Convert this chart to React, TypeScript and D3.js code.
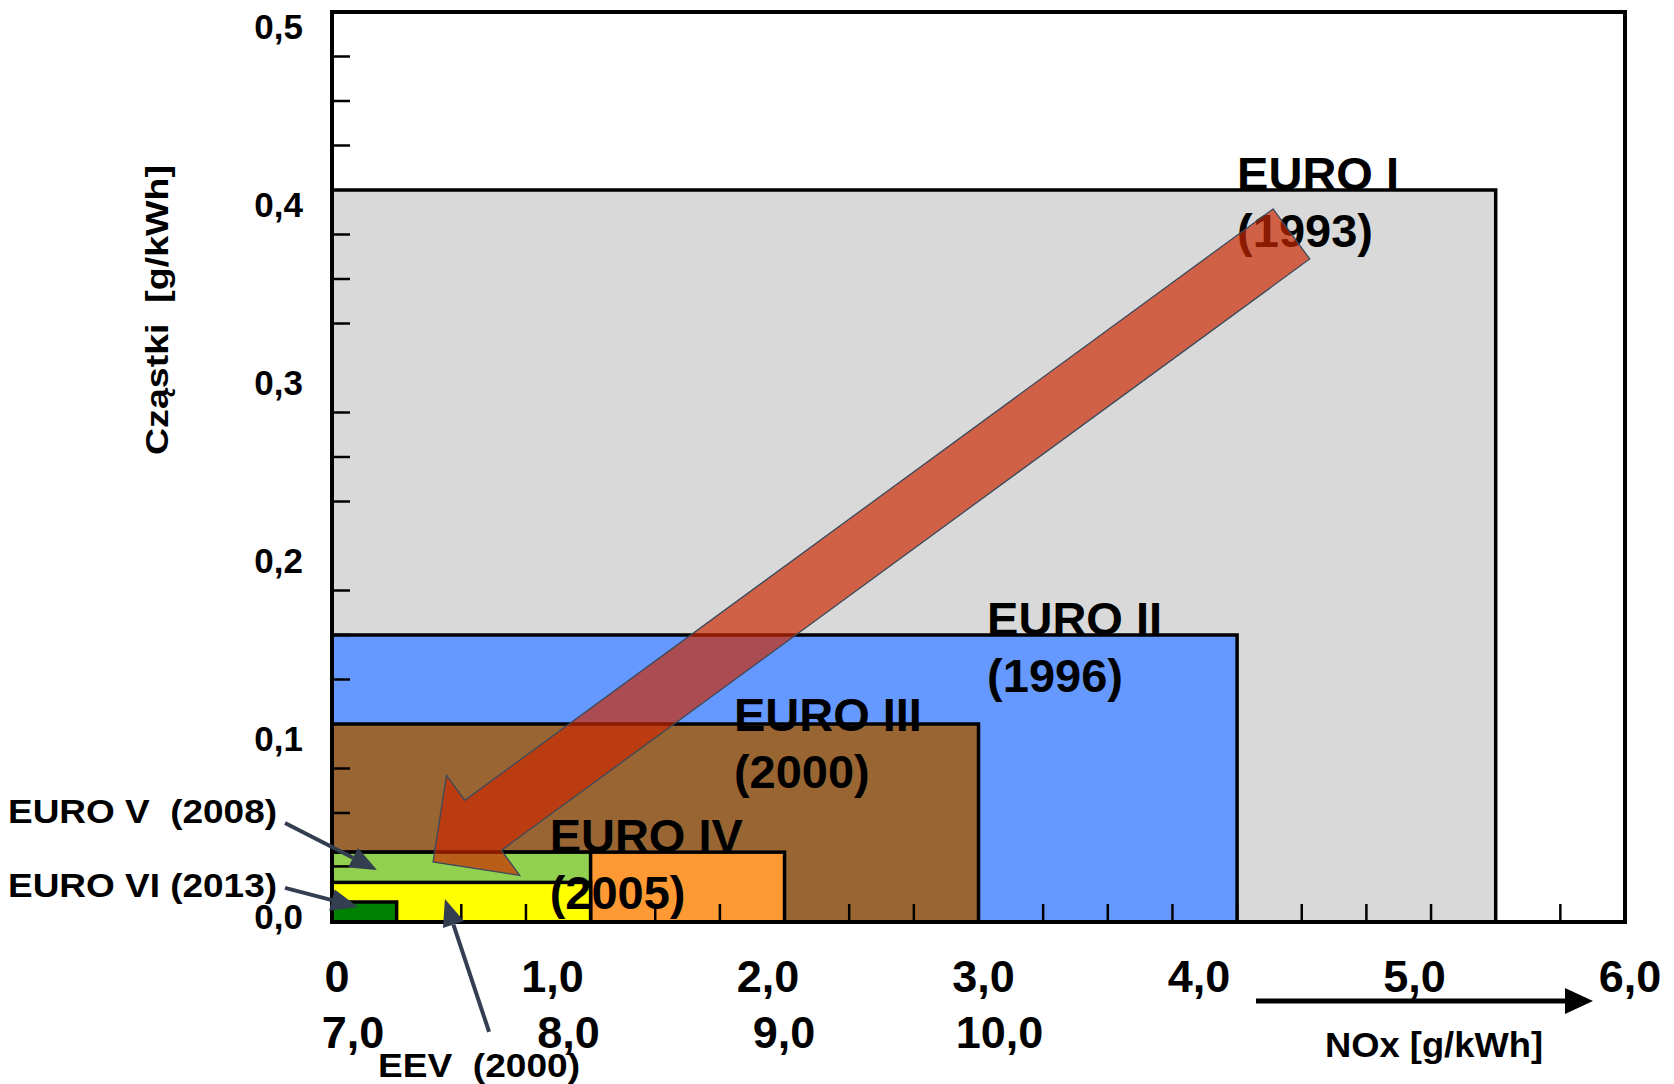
import React from "react";
import * as d3 from "d3";

// emission standards, drawn back to front
const standards = ["EURO I", "EURO II", "EURO III", "EURO IV", "EURO V", "EEV", "EURO VI"];
const years = ["1993", "1996", "2000", "2005", "2008", "2000", "2013"];
const noxLimits = [5.4, 4.2, 3.0, 2.1, 1.2, 1.2, 0.3];
const pmLimits = [0.4, 0.15, 0.1, 0.028, 0.028, 0.011, 0.0];

const yTickValues = [0, 0.1, 0.2, 0.3, 0.4, 0.5];
const yTickLabels = ["0,0", "0,1", "0,2", "0,3", "0,4", "0,5"];
const yMinorTicks = [
  0.02, 0.05, 0.075, 0.125, 0.15, 0.175, 0.225, 0.25, 0.275,
  0.325, 0.35, 0.375, 0.425, 0.45, 0.475,
];

const xTickValues = [0, 1, 2, 3, 4, 5, 6];
const xTickLabels = ["0", "1,0", "2,0", "3,0", "4,0", "5,0", "6,0"];
const xTickLabels2 = ["7,0", "8,0", "9,0", "10,0"];

const W = 1674;
const H = 1084;
const FONT = "'Liberation Sans', Arial, sans-serif";

const boxColors: Record<string, string> = {
  "EURO I": "#d9d9d9",
  "EURO II": "#6699ff",
  "EURO III": "#996633",
  "EURO IV": "#ff9933",
  "EURO V": "#92d050",
  EEV: "#ffff00",
  "EURO VI": "#008000",
};

// label anchors in data units (nox, pm) for the labels inside the plot
const inPlotLabels: Record<string, [number, number]> = {
  "EURO I": [4.2, 0.4],
  "EURO II": [3.04, 0.15],
  "EURO III": [1.865, 0.096],
  "EURO IV": [1.01, 0.028],
};

function arrowParts(x1: number, y1: number, x2: number, y2: number, len: number, half: number) {
  const dx = x2 - x1;
  const dy = y2 - y1;
  const l = Math.hypot(dx, dy);
  const ux = dx / l;
  const uy = dy / l;
  const bx = x2 - ux * len;
  const by = y2 - uy * len;
  const pts = [
    [x2, y2],
    [bx - uy * half, by + ux * half],
    [bx + uy * half, by - ux * half],
  ];
  return { bx, by, head: pts.map((p) => p.join(",")).join(" ") };
}

export default function App() {
  const x = d3.scaleLinear().domain([0, 6]).range([332, 1625]);
  const y = d3.scaleLinear().domain([-0.01124, 0.5]).range([922, 12]);
  const x0 = x(0);
  const yBase = y(-0.01124);
  const xMinor = d3.range(0.3, 5.8, 0.3);

  // big trend arrow, from EURO I down to the newest limits
  const tail = [x(4.452), y(0.3753)];
  const tip = [x(0.469), y(0.0225)];
  const dx = tip[0] - tail[0];
  const dy = tip[1] - tail[1];
  const L = Math.hypot(dx, dy);
  const ux = dx / L;
  const uy = dy / L;
  const nx = -uy;
  const ny = ux;
  const shaftHalf = 31;
  const headLen = 62;
  const headHalf = 62;
  const bx = tip[0] - ux * headLen;
  const by = tip[1] - uy * headLen;
  const bigArrow = [
    [tail[0] + nx * shaftHalf, tail[1] + ny * shaftHalf],
    [bx + nx * shaftHalf, by + ny * shaftHalf],
    [bx + nx * headHalf, by + ny * headHalf],
    [tip[0], tip[1]],
    [bx - nx * headHalf, by - ny * headHalf],
    [bx - nx * shaftHalf, by - ny * shaftHalf],
    [tail[0] - nx * shaftHalf, tail[1] - ny * shaftHalf],
  ]
    .map((p) => p.join(","))
    .join(" ");

  // callouts for the small boxes
  const callouts = [
    { text: "EURO V  (2008)", tx: 8, ty: 823, len: 269, from: [x(-0.218), y(0.0444)], to: [x(0.209), y(0.018)] },
    { text: "EURO VI (2013)", tx: 8, ty: 897, len: 269, from: [x(-0.218), y(0.0079)], to: [x(0.121), y(-0.0028)] },
    { text: "EEV  (2000)", tx: 378, ty: 1077, len: 202, from: [x(0.729), y(-0.073)], to: [x(0.524), y(0.0017)] },
  ];

  const nox = arrowParts(1256, 1001, 1593, 1001, 28, 13);

  return (
    <svg
      width={W}
      height={H}
      viewBox={`0 0 ${W} ${H}`}
      style={{ position: "absolute", left: 0, top: 0, background: "#fff" }}
      fontFamily={FONT}
      fontWeight="bold"
    >
      <rect x={0} y={0} width={W} height={H} fill="#fff" />

      {/* boxes */}
      {standards.map((s, i) => (
        <rect
          key={s}
          x={x0}
          y={y(pmLimits[i])}
          width={x(noxLimits[i]) - x0}
          height={yBase - y(pmLimits[i])}
          fill={boxColors[s]}
          stroke="#000"
          strokeWidth={3.5}
        />
      ))}

      {/* frame */}
      <rect x={x0} y={y(0.5)} width={x(6) - x0} height={yBase - y(0.5)} fill="none" stroke="#000" strokeWidth={4} />

      {/* minor ticks */}
      {yMinorTicks.map((v) => (
        <line key={"ym" + v} x1={x0} x2={x0 + 18} y1={y(v)} y2={y(v)} stroke="#000" strokeWidth={2.5} />
      ))}
      {xMinor.map((v) => (
        <line key={"xm" + v} x1={x(v)} x2={x(v)} y1={yBase} y2={yBase - 18} stroke="#000" strokeWidth={2.5} />
      ))}

      {/* y tick labels */}
      {yTickValues.map((v, i) => (
        <text key={"yl" + v} x={303} y={y(v) + 27} fontSize={35} textAnchor="end">
          {yTickLabels[i]}
        </text>
      ))}

      {/* x tick labels, two rows */}
      {xTickValues.map((v, i) => (
        <text key={"xl" + v} x={x(v) + 5} y={992} fontSize={45} textAnchor="middle">
          {xTickLabels[i]}
        </text>
      ))}
      {xTickLabels2.map((t, i) => (
        <text key={"xl2" + t} x={x(xTickValues[i]) + 21} y={1048} fontSize={45} textAnchor="middle">
          {t}
        </text>
      ))}

      {/* axis titles */}
      <text
        transform="translate(168,310) rotate(-90)"
        fontSize={32}
        textAnchor="middle"
        textLength={290}
        lengthAdjust="spacingAndGlyphs"
        style={{ whiteSpace: "pre" }}
      >
        {"Cząstki  [g/kWh]"}
      </text>
      <line x1={1256} y1={1001} x2={nox.bx} y2={nox.by} stroke="#000" strokeWidth={5} />
      <polygon points={nox.head} fill="#000" />
      <text x={1325} y={1057} fontSize={35} textLength={218} lengthAdjust="spacingAndGlyphs">
        NOx [g/kWh]
      </text>

      {/* labels in the plot */}
      {standards.slice(0, 4).map((s, i) => {
        const [lx, ly] = inPlotLabels[s];
        return (
          <g key={"lab" + s} fontSize={47}>
            <text x={x(lx)} y={y(ly)}>{s}</text>
            <text x={x(lx)} y={y(ly) + 57}>{`(${years[i]})`}</text>
          </g>
        );
      })}

      {/* callouts */}
      {callouts.map((c) => {
        const a = arrowParts(c.from[0], c.from[1], c.to[0], c.to[1], 27, 11);
        return (
          <g key={c.text}>
            <line x1={c.from[0]} y1={c.from[1]} x2={a.bx} y2={a.by} stroke="#333f50" strokeWidth={4} />
            <polygon points={a.head} fill="#333f50" />
            <text
              x={c.tx}
              y={c.ty}
              fontSize={34}
              textLength={c.len}
              lengthAdjust="spacingAndGlyphs"
              style={{ whiteSpace: "pre" }}
            >
              {c.text}
            </text>
          </g>
        );
      })}

      {/* trend arrow on top */}
      <polygon points={bigArrow} fill="rgb(204,40,0)" fillOpacity={0.68} stroke="#3b4a5c" strokeWidth={1.3} />
    </svg>
  );
}
